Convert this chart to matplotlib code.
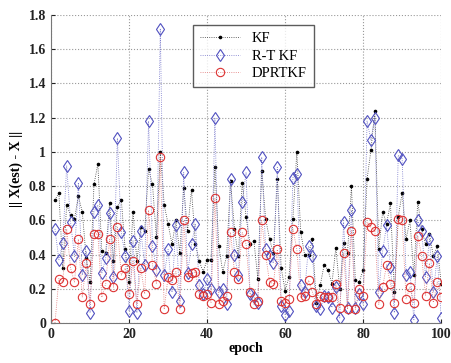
import matplotlib
matplotlib.use("Agg")
import matplotlib.pyplot as plt
import numpy as np

epoch = list(range(1, 101))
kf = [0.72, 0.76, 0.32, 0.69, 0.63, 0.61, 0.74, 0.65, 0.38, 0.24,
      0.81, 0.93, 0.42, 0.41, 0.70, 0.36, 0.68, 0.72, 0.43, 0.24,
      0.65, 0.36, 0.56, 0.54, 0.90, 0.81, 0.50, 1.00, 0.69, 0.58,
      0.46, 0.60, 0.41, 0.79, 0.54, 0.78, 0.46, 0.36, 0.30, 0.37,
      0.37, 0.91, 0.45, 0.30, 0.39, 0.83, 0.55, 0.39, 0.82, 0.62,
      0.46, 0.48, 0.26, 0.89, 0.61, 0.49, 0.41, 0.84, 0.32, 0.19,
      0.27, 0.61, 1.00, 0.53, 0.40, 0.40, 0.49, 0.12, 0.22, 0.34,
      0.31, 0.23, 0.44, 0.20, 0.47, 0.41, 0.80, 0.25, 0.24, 0.31,
      0.84, 1.01, 1.24, 0.43, 0.65, 0.58, 0.70, 0.18, 0.62, 0.76,
      0.49, 0.60, 0.28, 0.71, 0.55, 0.46, 0.52, 0.39, 0.45, 0.23]
rtkf = [0.55, 0.37, 0.47, 0.92, 0.59, 0.39, 0.82, 0.28, 0.42, 0.06,
        0.65, 0.69, 0.29, 0.38, 0.64, 0.27, 1.08, 0.53, 0.39, 0.07,
        0.48, 0.06, 0.54, 0.34, 1.18, 0.45, 0.31, 1.72, 0.28, 0.43,
        0.18, 0.57, 0.13, 0.88, 0.29, 0.46, 0.58, 0.22, 0.17, 0.26,
        0.20, 1.20, 0.18, 0.20, 0.11, 0.84, 0.40, 0.28, 0.71, 0.88,
        0.17, 0.15, 0.12, 0.97, 0.43, 0.39, 0.35, 0.91, 0.10, 0.05,
        0.07, 0.85, 0.87, 0.22, 0.18, 0.45, 0.39, 0.10, 0.08, 0.16,
        0.15, 0.09, 0.21, 0.03, 0.59, 0.09, 0.66, 0.09, 0.17, 0.11,
        1.18, 1.07, 1.20, 0.18, 0.42, 0.57, 0.33, 0.06, 0.98, 0.96,
        0.28, 0.30, 0.02, 0.60, 0.54, 0.27, 0.49, 0.18, 0.39, 0.03]
dprtkf = [0.00, 0.26, 0.24, 0.55, 0.32, 0.24, 0.49, 0.15, 0.35, 0.11,
          0.52, 0.52, 0.15, 0.23, 0.49, 0.21, 0.56, 0.28, 0.32, 0.17,
          0.36, 0.11, 0.32, 0.17, 0.66, 0.34, 0.23, 0.97, 0.08, 0.27,
          0.25, 0.30, 0.08, 0.60, 0.27, 0.29, 0.30, 0.17, 0.16, 0.17,
          0.12, 0.73, 0.11, 0.13, 0.16, 0.53, 0.30, 0.26, 0.53, 0.46,
          0.18, 0.11, 0.13, 0.60, 0.40, 0.24, 0.23, 0.43, 0.13, 0.12,
          0.14, 0.55, 0.43, 0.15, 0.16, 0.25, 0.18, 0.11, 0.16, 0.15,
          0.15, 0.15, 0.23, 0.09, 0.41, 0.08, 0.54, 0.08, 0.20, 0.16,
          0.59, 0.56, 0.54, 0.11, 0.21, 0.34, 0.23, 0.12, 0.61, 0.60,
          0.14, 0.21, 0.12, 0.51, 0.39, 0.16, 0.35, 0.12, 0.24, 0.15]

xticks = [0, 20, 40, 60, 80, 100]
yticks = [0, 0.2, 0.4, 0.6, 0.8, 1.0, 1.2, 1.4, 1.6, 1.8]
ytick_labels = ["0", "0.2", "0.4", "0.6", "0.8", "1", "1.2", "1.4", "1.6", "1.8"]

plt.rcParams['font.family'] = ['Liberation Serif', 'DejaVu Serif']
plt.rcParams['font.weight'] = 'bold'

fig = plt.figure(figsize=(4.52, 3.63), dpi=100)
ax = fig.add_axes([0.113, 0.110, 0.863, 0.849])

ax.plot(epoch, kf, linestyle=':', color='#333333', linewidth=0.6,
        marker='.', markersize=3.2, markerfacecolor='black',
        markeredgecolor='black', label='KF')
ax.plot(epoch, rtkf, linestyle=':', color='#7070c8', linewidth=0.6,
        marker='d', markersize=6, markerfacecolor='none',
        markeredgecolor='#5050c0', markeredgewidth=0.8, label='R-T KF')
ax.plot(epoch, dprtkf, linestyle=':', color='#e07070', linewidth=0.6,
        marker='o', markersize=6, markerfacecolor='none',
        markeredgecolor='#dd3333', markeredgewidth=0.8, label='DPRTKF')

ax.set_xlim(0, 100)
ax.set_ylim(0, 1.8)
ax.set_xticks(xticks)
ax.set_yticks(yticks)
ax.set_yticklabels(ytick_labels)
ax.tick_params(direction='in', labelsize=10, length=3, colors='#222222')
ax.grid(True, linestyle=':', color='#999999', linewidth=0.8)
for s in ['top', 'right']:
    ax.spines[s].set_visible(False)
for s in ['left', 'bottom']:
    ax.spines[s].set_color('#777777')

ax.set_xlabel('epoch', fontsize=10, fontweight='bold', labelpad=1)
ax.set_ylabel('|| X(est) - X ||', fontsize=10, fontweight='bold', labelpad=4)

leg = ax.legend(loc='upper left', bbox_to_anchor=(0.345, 0.99), fontsize=10.5,
                frameon=True, fancybox=False, edgecolor='#333333',
                handlelength=2.8, borderpad=0.45, labelspacing=0.3)
leg.get_frame().set_linewidth(1.0)
for t in leg.get_texts():
    t.set_fontweight('normal')

fig.savefig('out.png', dpi=100)
